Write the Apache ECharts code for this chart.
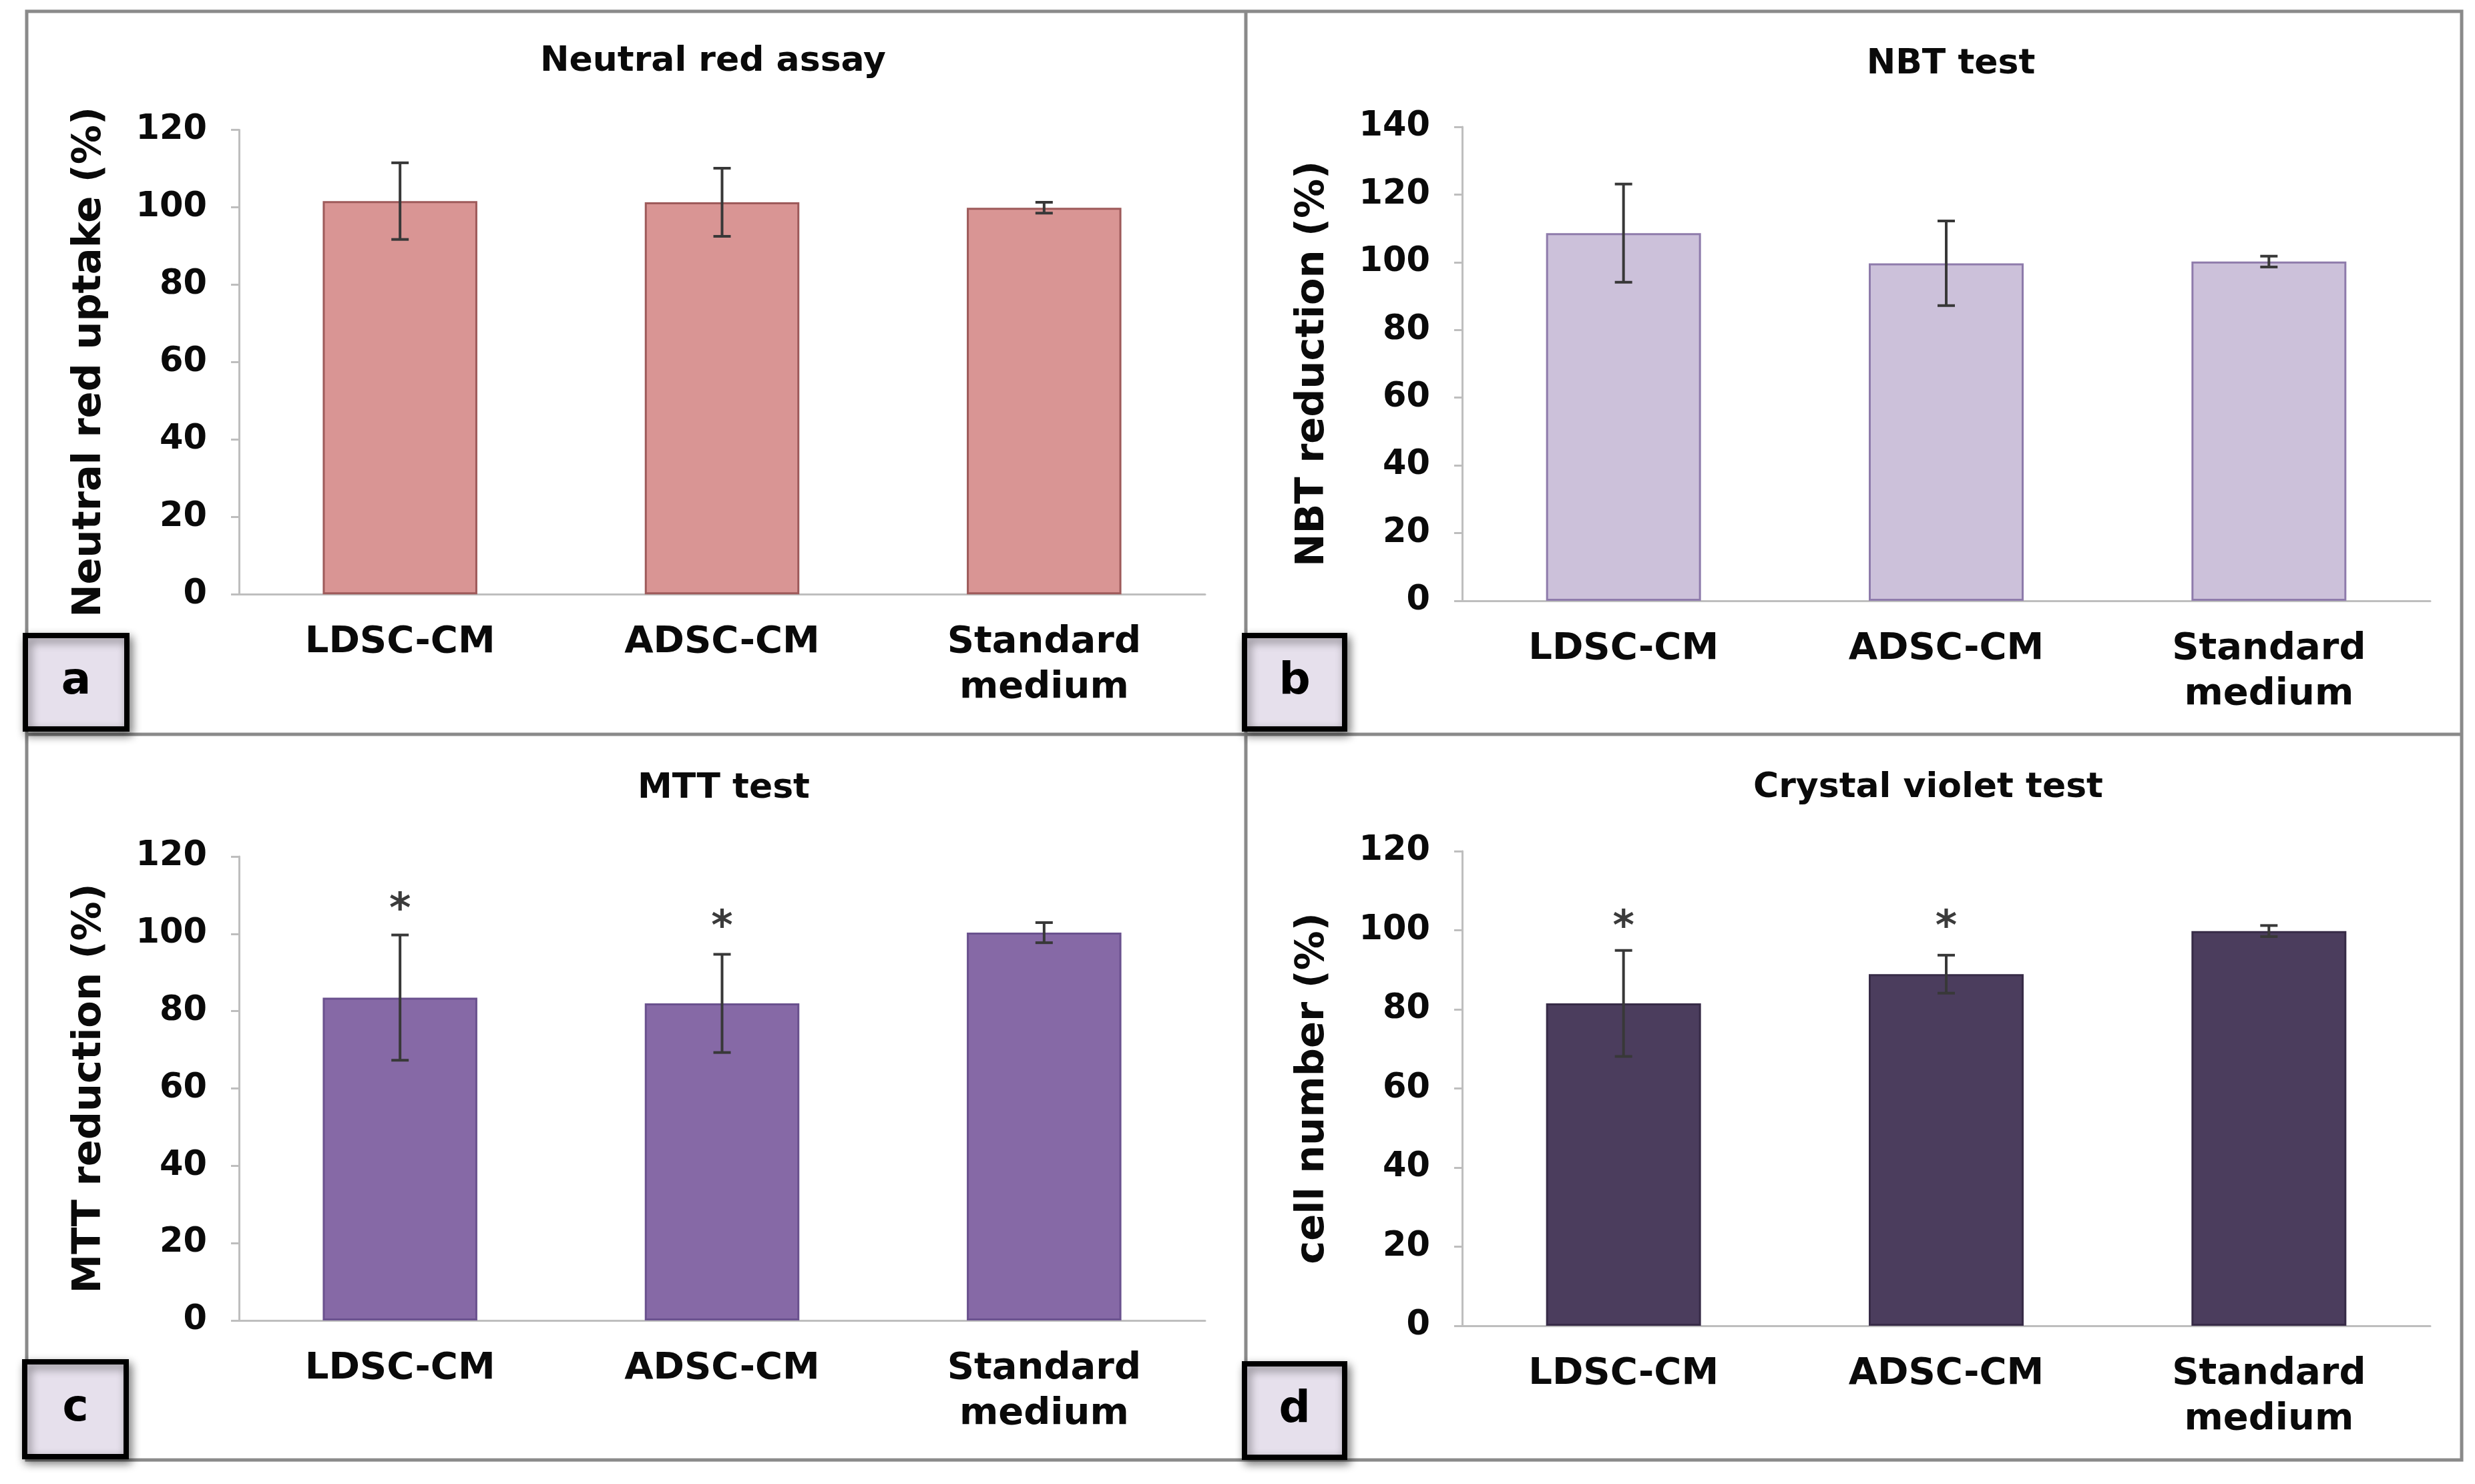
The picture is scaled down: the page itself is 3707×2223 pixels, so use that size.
<!DOCTYPE html>
<html>
<head>
<meta charset="utf-8">
<script src="https://cdn.jsdelivr.net/npm/echarts@6/dist/echarts.min.js"></script>
<style>
html,body{margin:0;padding:0;background:#fff;}
#main{width:3707px;height:2223px;}
</style>
</head>
<body>
<div id="main"></div>
<script>
// ---- data ----
const categories = ['LDSC-CM', 'ADSC-CM', 'Standard\nmedium'];
const panelLetters = ['a', 'b', 'c', 'd'];
const panelTitles = ['Neutral red assay', 'NBT test', 'MTT test', 'Crystal violet test'];
const yAxisNames = ['Neutral red uptake (%)', 'NBT reduction (%)', 'MTT reduction (%)', 'cell number (%)'];
const yAxisMax = [120, 140, 120, 120];
const yAxisInterval = [20, 20, 20, 20];

const neutralRed = [101.6, 101.3, 99.9];
const neutralRedErr = [9.9, 8.8, 1.4];
const nbt = [108.6, 99.7, 100.2];
const nbtErr = [14.5, 12.5, 1.6];
const mtt = [83.5, 82.0, 100.3];
const mttErr = [16.2, 12.7, 2.6];
const crystalViolet = [81.5, 88.9, 99.8];
const crystalVioletErr = [13.4, 4.8, 1.4];
// significance markers (*) – vertical position
const mttStar = [108.6, 104.1, null];
const crystalVioletStar = [103.1, 103.1, null];

// ---- styling / layout ----
const FONT = "'DejaVu Sans', Verdana, sans-serif";
const barColors = ['#D99594', '#CCC1DA', '#8669A6', '#4B3D5D'];
const barBorders = ['#9E5A5A', '#8E7BAB', '#6A518E', '#372B47'];
const grids = [
  {left: 358, top: 194.6, width: 1447, height: 695.7},
  {left: 2190, top: 190, width: 1450, height: 710},
  {left: 358, top: 1283, width: 1447, height: 695},
  {left: 2190, top: 1275, width: 1450, height: 711}
];
const titlePos = [[1068, 92], [2922, 96], [1084, 1181], [2888, 1180]];
const letterBoxes = [[38, 952, 152, 140], [1864, 952, 150, 140], [37, 2040, 152, 142], [1864, 2043, 150, 140]];

const allValues = [neutralRed, nbt, mtt, crystalViolet];
const allErrs = [neutralRedErr, nbtErr, mttErr, crystalVioletErr];
const allStars = [null, null, mttStar, crystalVioletStar];

const chart = echarts.init(document.getElementById('main'), null, {renderer: 'canvas'});

const xAxes = [], yAxes = [], series = [], graphics = [];

for (let i = 0; i < 4; i++) {
  xAxes.push({
    type: 'category', gridIndex: i, data: categories,
    axisLine: {lineStyle: {color: '#BEBEBE', width: 3}},
    axisTick: {show: false},
    axisLabel: {color: '#0a0a0a', fontFamily: FONT, fontWeight: 'bold', fontSize: 56, lineHeight: 68, margin: 38, interval: 0}
  });
  yAxes.push({
    type: 'value', gridIndex: i, min: 0, max: yAxisMax[i], interval: yAxisInterval[i],
    name: yAxisNames[i], nameLocation: 'middle', nameGap: 194,
    nameTextStyle: {color: '#0a0a0a', fontFamily: FONT, fontWeight: 'bold', fontSize: 59},
    axisLine: {show: true, lineStyle: {color: '#BEBEBE', width: 3}},
    axisTick: {show: true, length: 12, lineStyle: {color: '#BEBEBE', width: 3}},
    splitLine: {show: false},
    axisLabel: {color: '#0a0a0a', fontFamily: FONT, fontWeight: 'bold', fontSize: 51, margin: 48}
  });
  series.push({
    type: 'bar', xAxisIndex: i, yAxisIndex: i, data: allValues[i], barWidth: '48%',
    itemStyle: {color: barColors[i], borderColor: barBorders[i], borderWidth: 3},
    z: 2
  });
  const errData = allValues[i].map((v, k) => [k, v, allErrs[i][k]]);
  series.push({
    type: 'custom', xAxisIndex: i, yAxisIndex: i, data: errData, z: 5,
    renderItem: function (params, api) {
      const idx = api.value(0), v = api.value(1), e = api.value(2);
      const top = api.coord([idx, v + e]);
      const bot = api.coord([idx, v - e]);
      const cw = 13;
      const st = {stroke: '#383838', lineWidth: 4};
      return {
        type: 'group',
        children: [
          {type: 'line', shape: {x1: top[0], y1: top[1], x2: bot[0], y2: bot[1]}, style: st},
          {type: 'line', shape: {x1: top[0] - cw, y1: top[1], x2: top[0] + cw, y2: top[1]}, style: st},
          {type: 'line', shape: {x1: bot[0] - cw, y1: bot[1], x2: bot[0] + cw, y2: bot[1]}, style: st}
        ]
      };
    }
  });
  if (allStars[i]) {
    const starData = allStars[i].map((s, k) => s == null ? null : [k, s]).filter(d => d);
    series.push({
      type: 'scatter', xAxisIndex: i, yAxisIndex: i, data: starData, symbolSize: 1,
      itemStyle: {color: 'rgba(0,0,0,0)'}, z: 6, silent: true,
      label: {show: true, position: 'inside', formatter: '*', color: '#0a0a0a', fontFamily: FONT, fontWeight: 'bold', fontSize: 62, offset: [0, 16]}
    });
  }
  graphics.push({
    type: 'text', x: titlePos[i][0], y: titlePos[i][1], z: 10,
    style: {text: panelTitles[i], fill: '#0a0a0a', font: 'bold 52px ' + FONT, textAlign: 'center', textVerticalAlign: 'middle'}
  });
}

// panel borders
const B = {stroke: '#8A8A8A', lineWidth: 5};
graphics.push({type: 'rect', shape: {x: 40, y: 17, width: 3647, height: 2170}, style: Object.assign({fill: null}, B), z: 1});
graphics.push({type: 'line', shape: {x1: 1866, y1: 17, x2: 1866, y2: 2187}, style: B, z: 1});
graphics.push({type: 'line', shape: {x1: 40, y1: 1100, x2: 3687, y2: 1100}, style: B, z: 1});

// panel letter boxes
letterBoxes.forEach((b, i) => {
  graphics.push({
    type: 'rect', shape: {x: b[0], y: b[1], width: b[2], height: b[3]}, z: 20,
    style: {fill: '#E6E0EC', stroke: '#000', lineWidth: 8, shadowBlur: 14, shadowColor: 'rgba(0,0,0,0.45)', shadowOffsetX: 4, shadowOffsetY: 6}
  });
  graphics.push({
    type: 'text', x: b[0] + b[2] / 2, y: b[1] + b[3] / 2, z: 21,
    style: {text: panelLetters[i], fill: '#000', font: 'bold 66px ' + FONT, textAlign: 'center', textVerticalAlign: 'middle'}
  });
});

chart.setOption({
  backgroundColor: '#ffffff',
  animation: false,
  grid: grids,
  xAxis: xAxes,
  yAxis: yAxes,
  series: series,
  graphic: graphics
});
</script>
</body>
</html>
